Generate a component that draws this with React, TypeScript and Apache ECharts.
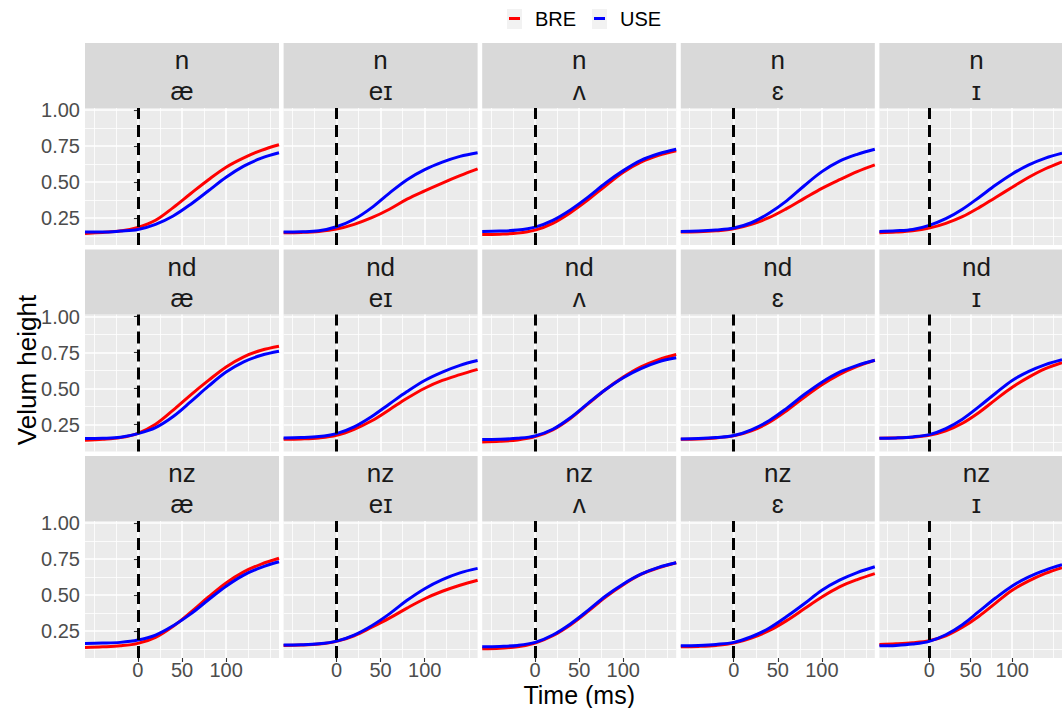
import React, { useEffect, useRef } from "react";
import * as echarts from "echarts";

// Sample times (ms) relative to the acoustic landmark
const TIME_MS = [-60, -40, -20, 0, 20, 40, 60, 80, 100, 120, 140, 160];
const CONSONANTS = ["n", "nd", "nz"];
const VOWELS = ["æ", "eɪ", "ʌ", "ɛ", "ɪ"];
const X_TICKS = [0, 50, 100];
const Y_TICKS = [0.25, 0.5, 0.75, 1.0];
const VARIETIES = ["BRE", "USE"];

// Velum height per vowel (æ, eɪ, ʌ, ɛ, ɪ), one array per consonant context and variety
const BRE_N = [
  [0.143, 0.150, 0.159, 0.185, 0.234, 0.322, 0.420, 0.516, 0.603, 0.668, 0.720, 0.759],
  [0.147, 0.150, 0.157, 0.173, 0.206, 0.252, 0.311, 0.381, 0.439, 0.493, 0.544, 0.591],
  [0.136, 0.138, 0.145, 0.166, 0.213, 0.287, 0.376, 0.474, 0.568, 0.638, 0.685, 0.717],
  [0.152, 0.154, 0.161, 0.175, 0.206, 0.252, 0.315, 0.386, 0.456, 0.516, 0.572, 0.619],
  [0.147, 0.152, 0.161, 0.180, 0.213, 0.259, 0.322, 0.393, 0.463, 0.533, 0.592, 0.640],
];
const USE_N = [
  [0.152, 0.152, 0.159, 0.170, 0.206, 0.264, 0.346, 0.439, 0.533, 0.610, 0.666, 0.703],
  [0.152, 0.154, 0.161, 0.189, 0.241, 0.322, 0.423, 0.516, 0.586, 0.638, 0.678, 0.703],
  [0.157, 0.159, 0.166, 0.187, 0.234, 0.306, 0.395, 0.493, 0.579, 0.650, 0.696, 0.727],
  [0.157, 0.159, 0.166, 0.180, 0.217, 0.283, 0.369, 0.474, 0.572, 0.645, 0.692, 0.727],
  [0.157, 0.161, 0.170, 0.199, 0.245, 0.311, 0.393, 0.479, 0.556, 0.619, 0.666, 0.700],
];
const BRE_ND = [
  [0.140, 0.147, 0.159, 0.189, 0.252, 0.350, 0.456, 0.556, 0.650, 0.720, 0.766, 0.794],
  [0.147, 0.150, 0.157, 0.175, 0.217, 0.276, 0.353, 0.432, 0.502, 0.556, 0.596, 0.633],
  [0.129, 0.133, 0.143, 0.166, 0.213, 0.292, 0.393, 0.493, 0.579, 0.650, 0.701, 0.736],
  [0.147, 0.150, 0.157, 0.171, 0.206, 0.264, 0.346, 0.439, 0.526, 0.598, 0.654, 0.696],
  [0.154, 0.157, 0.161, 0.175, 0.206, 0.259, 0.334, 0.423, 0.509, 0.579, 0.638, 0.680],
];
const USE_ND = [
  [0.152, 0.154, 0.161, 0.187, 0.229, 0.306, 0.409, 0.516, 0.614, 0.685, 0.731, 0.759],
  [0.157, 0.159, 0.166, 0.187, 0.234, 0.306, 0.393, 0.479, 0.556, 0.614, 0.661, 0.694],
  [0.145, 0.147, 0.154, 0.171, 0.217, 0.297, 0.397, 0.493, 0.575, 0.638, 0.685, 0.713],
  [0.150, 0.152, 0.159, 0.173, 0.213, 0.276, 0.362, 0.458, 0.544, 0.614, 0.661, 0.696],
  [0.154, 0.157, 0.164, 0.180, 0.222, 0.287, 0.374, 0.467, 0.556, 0.619, 0.666, 0.700],
];
const BRE_NZ = [
  [0.136, 0.140, 0.147, 0.164, 0.206, 0.283, 0.381, 0.486, 0.584, 0.661, 0.715, 0.755],
  [0.150, 0.152, 0.159, 0.178, 0.217, 0.276, 0.339, 0.409, 0.474, 0.526, 0.568, 0.603],
  [0.126, 0.131, 0.140, 0.166, 0.217, 0.292, 0.386, 0.486, 0.572, 0.643, 0.689, 0.724],
  [0.140, 0.143, 0.150, 0.166, 0.201, 0.252, 0.322, 0.404, 0.486, 0.556, 0.607, 0.649],
  [0.157, 0.161, 0.168, 0.182, 0.217, 0.276, 0.353, 0.444, 0.533, 0.598, 0.650, 0.690],
];
const USE_NZ = [
  [0.164, 0.166, 0.171, 0.187, 0.222, 0.287, 0.369, 0.467, 0.561, 0.638, 0.692, 0.731],
  [0.152, 0.154, 0.161, 0.180, 0.222, 0.287, 0.369, 0.463, 0.544, 0.607, 0.654, 0.685],
  [0.140, 0.143, 0.150, 0.171, 0.222, 0.299, 0.393, 0.493, 0.577, 0.645, 0.692, 0.724],
  [0.147, 0.150, 0.157, 0.171, 0.210, 0.269, 0.350, 0.439, 0.533, 0.603, 0.656, 0.696],
  [0.147, 0.150, 0.159, 0.178, 0.224, 0.294, 0.386, 0.479, 0.563, 0.626, 0.673, 0.710],
];

const BRE_ROWS = [BRE_N, BRE_ND, BRE_NZ];
const USE_ROWS = [USE_N, USE_ND, USE_NZ];

// Layout of the facet grid (pixels)
const PANEL_LEFT0 = 85;
const PANEL_STEP_X = 198.6;
const PANEL_W = 194;
const PANEL_TOP0 = 108;
const PANEL_STEP_Y = 206.5;
const PANEL_H = 137;
const STRIP_H = 65;

const X_MIN = -60;
const X_MAX = 160;
const Y_MIN = 0.0625;
const Y_MAX = 1.014;

const FONT = '"Liberation Sans", Arial, Helvetica, sans-serif';
const RED = "#FF0000";
const BLUE = "#0000FF";
const CLEAR = "rgba(0,0,0,0)";
const WHITE = "#FFFFFF";
const CURVE_W = 3;

function lineColors(start: number, step: number, end: number, pick: (v: number) => boolean) {
  const out: string[] = [];
  const n = Math.round((end - start) / step);
  for (let i = 0; i <= n; i++) {
    const v = Math.round((start + i * step) * 10000) / 10000;
    out.push(pick(v) ? WHITE : CLEAR);
  }
  out.push(CLEAR);
  return out;
}

const xMajorColors = lineColors(X_MIN, 10, X_MAX, (v) => X_TICKS.includes(v));
const xMinorColors = lineColors(X_MIN, 5, X_MAX, (v) => v % 25 === 0 && !X_TICKS.includes(v));
const yMajorColors = lineColors(Y_MIN, 0.0625, 1.0, (v) => Y_TICKS.includes(v));
const yMinorColors = lineColors(Y_MIN, 0.0625, 1.0, (v) => Math.abs(((v - 0.125) / 0.25) - Math.round((v - 0.125) / 0.25)) < 1e-6);

function buildOption() {
  const grid: any[] = [];
  const xAxis: any[] = [];
  const yAxis: any[] = [];
  const series: any[] = [];
  const graphic: any[] = [];

  CONSONANTS.forEach((cons, r) => {
    VOWELS.forEach((vow, c) => {
      const p = r * VOWELS.length + c;
      const left = PANEL_LEFT0 + c * PANEL_STEP_X;
      const top = PANEL_TOP0 + r * PANEL_STEP_Y;
      grid.push({
        left,
        top,
        width: PANEL_W,
        height: PANEL_H,
        show: true,
        backgroundColor: "#EBEBEB",
        borderWidth: 0,
        containLabel: false,
      });

      const hidden = { axisLine: { show: false }, axisTick: { show: false }, axisLabel: { show: false } };
      // labelled x axis
      xAxis.push({
        type: "value",
        gridIndex: p,
        min: X_MIN,
        max: X_MAX,
        axisLine: { show: false },
        axisTick: {
          show: r === CONSONANTS.length - 1,
          customValues: X_TICKS,
          length: 4,
          lineStyle: { color: "#333333", width: 1.1 },
        },
        axisLabel: {
          show: r === CONSONANTS.length - 1,
          customValues: X_TICKS,
          color: "#4D4D4D",
          fontSize: 20,
          lineHeight: 20,
          fontFamily: FONT,
          margin: 2,
        },
        splitLine: { show: false },
      });
      // major and minor vertical grid lines
      xAxis.push({
        type: "value", gridIndex: p, min: X_MIN, max: X_MAX, interval: 10, ...hidden,
        splitLine: { show: true, lineStyle: { color: xMajorColors, width: 1.6 } },
      });
      xAxis.push({
        type: "value", gridIndex: p, min: X_MIN, max: X_MAX, interval: 5, ...hidden,
        splitLine: { show: true, lineStyle: { color: xMinorColors, width: 0.8 } },
      });

      // labelled y axis
      yAxis.push({
        type: "value",
        gridIndex: p,
        min: Y_MIN,
        max: Y_MAX,
        position: "left",
        axisLine: { show: false },
        axisTick: {
          show: c === 0,
          customValues: Y_TICKS,
          length: 4,
          lineStyle: { color: "#333333", width: 1.1 },
        },
        axisLabel: {
          show: c === 0,
          customValues: Y_TICKS,
          formatter: (v: number) => v.toFixed(2),
          color: "#4D4D4D",
          fontSize: 20,
          fontFamily: FONT,
          margin: 5,
        },
        splitLine: { show: false },
      });
      yAxis.push({
        type: "value", gridIndex: p, min: Y_MIN, max: Y_MAX, interval: 0.0625, position: "left", ...hidden,
        splitLine: { show: true, lineStyle: { color: yMajorColors, width: 1.6 } },
      });
      yAxis.push({
        type: "value", gridIndex: p, min: Y_MIN, max: Y_MAX, interval: 0.0625, position: "left", ...hidden,
        splitLine: { show: true, lineStyle: { color: yMinorColors, width: 0.8 } },
      });

      const bre = BRE_ROWS[r][c];
      const use = USE_ROWS[r][c];
      const common = {
        type: "line",
        xAxisIndex: p * 3,
        yAxisIndex: p * 3,
        showSymbol: false,
        smooth: 0.35,
        clip: true,
        silent: true,
        z: 3,
      };
      series.push({
        ...common,
        name: VARIETIES[0],
        data: TIME_MS.map((t, k) => [t, bre[k]]),
        lineStyle: { color: RED, width: CURVE_W },
        itemStyle: { color: RED },
      });
      series.push({
        ...common,
        name: VARIETIES[1],
        data: TIME_MS.map((t, k) => [t, use[k]]),
        lineStyle: { color: BLUE, width: CURVE_W },
        itemStyle: { color: BLUE },
        markLine: {
          silent: true,
          symbol: ["none", "none"],
          label: { show: false },
          lineStyle: { color: "#000000", type: [12, 6], width: 3 },
          data: [{ xAxis: 0 }],
        },
      });

      // facet strip with the two labels
      graphic.push({
        type: "rect",
        silent: true,
        shape: { x: left, y: top - STRIP_H, width: PANEL_W, height: STRIP_H },
        style: { fill: "#D9D9D9" },
      });
      graphic.push({
        type: "text",
        silent: true,
        x: left + PANEL_W / 2,
        y: top - 48,
        style: { text: cons, fill: "#1A1A1A", fontSize: 26, fontFamily: FONT, align: "center", verticalAlign: "middle" },
      });
      graphic.push({
        type: "text",
        silent: true,
        x: left + PANEL_W / 2,
        y: top - 17,
        style: { text: vow, fill: "#1A1A1A", fontSize: 26, fontFamily: FONT, align: "center", verticalAlign: "middle" },
      });
    });
  });

  // axis titles
  graphic.push({
    type: "text",
    silent: true,
    x: PANEL_LEFT0 + (PANEL_STEP_X * 4 + PANEL_W) / 2,
    y: 695,
    style: { text: "Time (ms)", fill: "#000000", fontSize: 25, lineHeight: 25, fontFamily: FONT, align: "center", verticalAlign: "middle" },
  });
  graphic.push({
    type: "text",
    silent: true,
    x: 27,
    y: 370,
    rotation: Math.PI / 2,
    style: { text: "Velum height", fill: "#000000", fontSize: 26, fontFamily: FONT, align: "center", verticalAlign: "middle" },
  });

  // legend
  const legendItems = [
    { name: VARIETIES[0], color: RED, keyX: 507, textX: 535 },
    { name: VARIETIES[1], color: BLUE, keyX: 592, textX: 620 },
  ];
  legendItems.forEach((it) => {
    graphic.push({
      type: "rect",
      silent: true,
      shape: { x: it.keyX, y: 9, width: 15, height: 20 },
      style: { fill: "#F2F2F2" },
    });
    graphic.push({
      type: "line",
      silent: true,
      shape: { x1: it.keyX + 2, y1: 18.5, x2: it.keyX + 13, y2: 18.5 },
      style: { stroke: it.color, lineWidth: 3 },
    });
    graphic.push({
      type: "text",
      silent: true,
      x: it.textX,
      y: 19,
      style: { text: it.name, fill: "#000000", fontSize: 20, fontFamily: FONT, align: "left", verticalAlign: "middle" },
    });
  });

  return {
    animation: false,
    backgroundColor: "#FFFFFF",
    textStyle: { fontFamily: FONT },
    grid,
    xAxis,
    yAxis,
    series,
    graphic,
  };
}

export default function App() {
  const ref = useRef<HTMLDivElement>(null);
  useEffect(() => {
    if (!ref.current) return;
    const chart = echarts.init(ref.current, undefined, { renderer: "svg" });
    chart.setOption(buildOption() as any);
    return () => chart.dispose();
  }, []);
  return (
    <div
      ref={ref}
      style={{ position: "fixed", left: 0, top: 0, width: 1062, height: 708, background: "#FFFFFF" }}
    />
  );
}
